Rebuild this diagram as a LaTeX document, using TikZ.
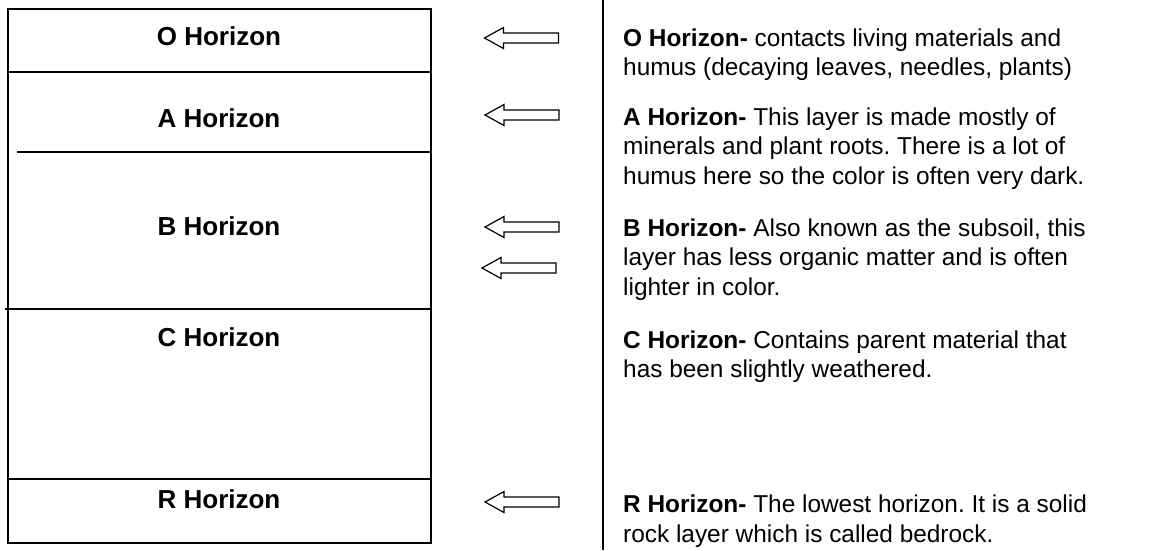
\documentclass[tikz,border=0pt]{standalone}
\usepackage{fontspec}
\setmainfont{Liberation Sans}
\frenchspacing
\begin{document}
\begin{tikzpicture}[x=1pt,y=-1pt,
  layer/.style={font=\fontsize{26}{30}\selectfont\bfseries, anchor=base, inner sep=0pt},
  desc/.style={font=\fontsize{24.4}{29.5}\selectfont\frenchspacing, anchor=base west, align=left, inner sep=0pt},
  divider/.style={line width=1.6pt},
  blockarrow/.pic={\draw[line width=1.2pt, line join=miter] (0,0) -- (19,-10.5) -- (19,-5) -- (74,-5) -- (74,5) -- (19,5) -- (19,10.5) -- cycle;}
]
\fill[white] (0,0) rectangle (1167,550);
\useasboundingbox (0,0) rectangle (1167,550);
% soil column
\draw[line width=2pt] (7.5,9) rectangle (431,543);
\coordinate (oa1) at (9,72);   \coordinate (oa2) at (430,72);
\coordinate (ab1) at (17,152); \coordinate (ab2) at (431,152);
\coordinate (bc1) at (5,309);  \coordinate (bc2) at (430,309);
\coordinate (cr1) at (7.5,479);\coordinate (cr2) at (431,479);
\draw[divider] (oa1) -- (oa2);
\draw[divider] (ab1) -- (ab2);
\draw[divider] (bc1) -- (bc2);
\draw[divider] (cr1) -- (cr2);
\node[layer] (lo) at (219,45.5) {O Horizon};
\node[layer] (la) at (219,127) {A Horizon};
\node[layer] (lb) at (219,235) {B Horizon};
\node[layer] (lc) at (219,346) {C Horizon};
\node[layer] (lr) at (219,508) {R Horizon};
% arrows
\pic at (484.5,38) {blockarrow};
\pic at (485,115) {blockarrow};
\pic at (485,227) {blockarrow};
\pic at (482,268) {blockarrow};
\pic at (485,502) {blockarrow};
% separator
\coordinate (vt) at (603,0);
\coordinate (vb) at (603,550);
\draw[line width=1.5pt] (vt) -- (vb);
% descriptions (anchored at the baseline of the last line)
\node[desc] (do) at (623,75.5) {\textbf{O Horizon-} contacts living materials and\\humus (decaying leaves, needles, plants)};
\node[desc] (da) at (623,184) {\textbf{A Horizon-} This layer is made mostly of\\minerals and plant roots. There is a lot of\\humus here so the color is often very dark.};
\node[desc] (db) at (623,295) {\textbf{B Horizon-} Also known as the subsoil, this\\layer has less organic matter and is often\\lighter in color.};
\node[desc] (dc) at (623,377.5) {\textbf{C Horizon-} Contains parent material that\\has been slightly weathered.};
\node[desc] (dr) at (623,542) {\textbf{R Horizon-} The lowest horizon. It is a solid\\rock layer which is called bedrock.};
\end{tikzpicture}
\end{document}
